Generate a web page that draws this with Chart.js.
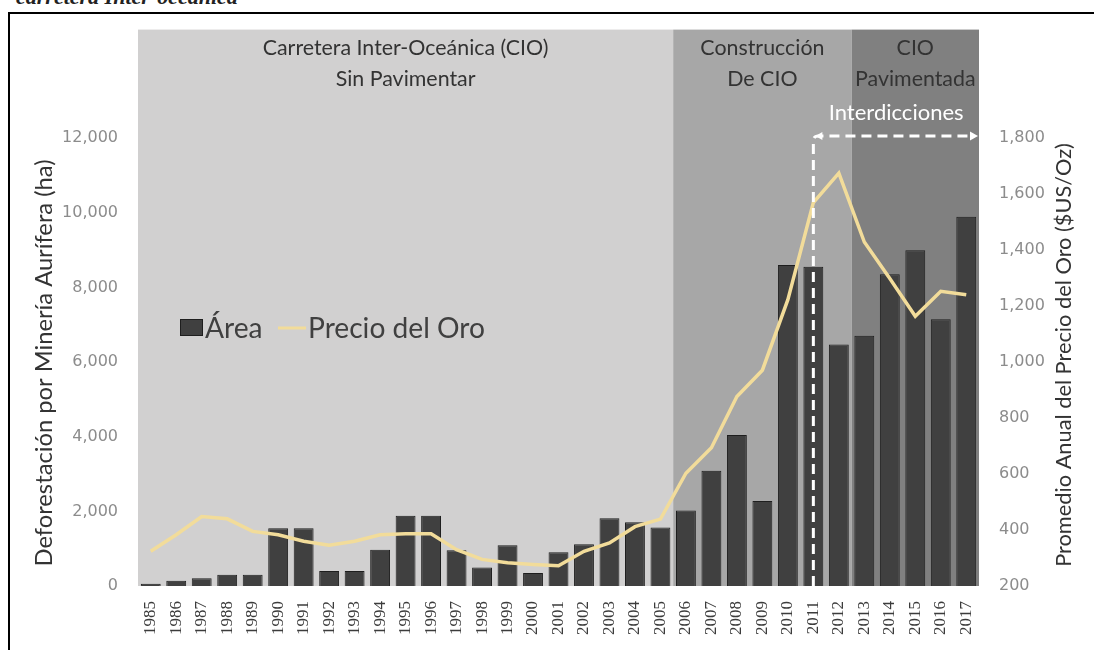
<!DOCTYPE html>
<html><head><meta charset="utf-8">
<script src="https://cdn.jsdelivr.net/npm/chart.js@4.4.0/dist/chart.umd.min.js"></script>
<style>
html,body{margin:0;padding:0;background:#fff;overflow:hidden}
#wrap{position:relative;width:1094px;height:650px;overflow:hidden}
#frame{position:absolute;left:8px;top:12px;width:1200px;height:800px;border-left:2.5px solid #000;border-top:2.5px solid #000}
#cap{position:absolute;left:16px;top:-15px;font:italic bold 22px/24px 'Liberation Serif';color:#222;white-space:nowrap}
canvas{position:absolute;left:0;top:0}
</style></head><body>
<div id="wrap"><div id="cap">carretera Inter-oceánica</div><div id="frame"></div><canvas id="c" width="1094" height="650"></canvas></div>
<script>
const years = ['1985','1986','1987','1988','1989','1990','1991','1992','1993','1994','1995','1996','1997','1998','1999','2000','2001','2002','2003','2004','2005','2006','2007','2008','2009','2010','2011','2012','2013','2014','2015','2016','2017'];
const area = [60,140,210,300,300,1550,1550,405,405,970,1885,1885,960,495,1090,345,905,1120,1815,1710,1570,2020,3090,4045,2280,8600,8555,6470,6705,8350,8995,7145,9890];
const gold = [324,383,448,440,395,383,360,346,360,383,387,387,330,295,283,277,272,324,354,412,439,603,694,877,971,1223,1570,1675,1429,1299,1164,1253,1241];
const leftTicks = [0,2000,4000,6000,8000,10000,12000];
const rightTicks = [200,400,600,800,1000,1200,1400,1600,1800];
const phaseLabels = [['Carretera Inter-Oceánica (CIO)','Sin Pavimentar'],['Construcción','De CIO'],['CIO','Pavimentada']];
const phaseStart = ['1985','2006','2013'];
const phaseEnd = ['2005','2012','2017'];
const phaseColors = ['#d1d0d0','#a7a7a7','#808080'];
const interdictionYear = '2011';
const interdictionLabel = 'Interdicciones';
const seriesNames = ['Área','Precio del Oro'];
const leftTitle = 'Deforestación por Minería Aurífera (ha)';
const rightTitle = 'Promedio Anual del Precio del Oro ($US/Oz)';

const BAR = '#404040', GOLD = '#f2dc9a';

function fitFont(ctx, text, family, target, weight) {
  ctx.font = (weight||'') + ' 100px ' + family;
  const w = ctx.measureText(text).width;
  return 100 * target / w;
}

const deco = {
  id: 'deco',
  beforeDatasetsDraw(chart) {
    const {ctx, chartArea: ca, scales: {x}} = chart;
    const half = (x.getPixelForValue(1) - x.getPixelForValue(0)) / 2;
    ctx.save();
    const fam = 'Lato';
    const fs = fitFont(ctx, phaseLabels[0][0], fam, 286);
    for (let i = 0; i < phaseStart.length; i++) {
      const l = i === 0 ? ca.left : x.getPixelForValue(years.indexOf(phaseStart[i])) - half;
      const r = i === phaseStart.length - 1 ? ca.right : x.getPixelForValue(years.indexOf(phaseEnd[i])) + half;
      ctx.fillStyle = phaseColors[i];
      ctx.fillRect(l, ca.top, r - l, ca.bottom - ca.top);
      ctx.fillStyle = '#333';
      ctx.font = fs + 'px ' + fam;
      ctx.textAlign = 'center';
      ctx.textBaseline = 'middle';
      ctx.fillText(phaseLabels[i][0], (l + r) / 2, 48);
      ctx.fillText(phaseLabels[i][1], (l + r) / 2, 79);
    }
    ctx.restore();
  },
  afterDatasetsDraw(chart) {
    const {ctx, chartArea: ca, scales: {x}} = chart;
    const xi = x.getPixelForValue(years.indexOf(interdictionYear));
    const yh = 136;
    ctx.save();
    ctx.strokeStyle = '#fff';
    ctx.fillStyle = '#fff';
    ctx.lineWidth = 3;
    ctx.setLineDash([10, 6]);
    ctx.beginPath();
    ctx.moveTo(xi, ca.bottom);
    ctx.lineTo(xi, yh + 5);
    ctx.quadraticCurveTo(xi, yh, xi + 5, yh);
    ctx.lineTo(ca.right - 8, yh);
    ctx.stroke();
    ctx.setLineDash([]);
    ctx.beginPath();
    ctx.moveTo(ca.right - 1, yh);
    ctx.lineTo(ca.right - 9, yh - 4.5);
    ctx.lineTo(ca.right - 9, yh + 4.5);
    ctx.closePath();
    ctx.fill();
    ctx.beginPath();
    ctx.moveTo(xi + 2, yh);
    ctx.lineTo(xi + 9, yh - 4);
    ctx.lineTo(xi + 9, yh + 4);
    ctx.closePath();
    ctx.fill();
    ctx.font = fitFont(ctx, interdictionLabel, 'Lato', 135) + 'px Lato';
    ctx.textAlign = 'center';
    ctx.textBaseline = 'middle';
    ctx.fillText(interdictionLabel, (xi + ca.right) / 2, 113);

    ctx.fillStyle = BAR;
    ctx.strokeStyle = '#1e1e1e';
    ctx.lineWidth = 1;
    ctx.fillRect(180, 319, 23, 17);
    ctx.strokeRect(180.5, 319.5, 22, 16);
    const lf = fitFont(ctx, seriesNames[1], 'Lato', 177);
    ctx.font = lf + 'px Lato';
    ctx.fillStyle = '#404040';
    ctx.textAlign = 'left';
    ctx.textBaseline = 'alphabetic';
    ctx.fillText(seriesNames[0], 205, 338);
    ctx.strokeStyle = GOLD;
    ctx.lineWidth = 3;
    ctx.beginPath();
    ctx.moveTo(278, 328); ctx.lineTo(306, 328);
    ctx.stroke();
    ctx.fillText(seriesNames[1], 308, 338);
    ctx.restore();
  },
  afterDraw(chart) {
    const {ctx} = chart;
    ctx.save();
    ctx.fillStyle = '#333';
    ctx.textAlign = 'center';
    ctx.textBaseline = 'middle';
    ctx.font = fitFont(ctx, leftTitle, 'Lato', 407) + 'px Lato';
    ctx.translate(44, 363);
    ctx.rotate(-Math.PI / 2);
    ctx.fillText(leftTitle, 0, 0);
    ctx.restore();
    ctx.save();
    ctx.fillStyle = '#333';
    ctx.textAlign = 'center';
    ctx.textBaseline = 'middle';
    ctx.font = fitFont(ctx, rightTitle, 'Lato', 424) + 'px Lato';
    ctx.translate(1064, 355);
    ctx.rotate(-Math.PI / 2);
    ctx.fillText(rightTitle, 0, 0);
    ctx.restore();
  }
};

new Chart(document.getElementById('c'), {
  type: 'bar',
  data: {
    labels: years,
    datasets: [
      {type: 'line', label: seriesNames[1], data: gold, yAxisID: 'y1', borderColor: GOLD, borderWidth: 3.5, pointRadius: 0, tension: 0, fill: false, order: 0},
      {type: 'bar', label: seriesNames[0], data: area, yAxisID: 'y', backgroundColor: BAR, borderColor: '#1e1e1e', borderWidth: 1, barPercentage: 0.78, categoryPercentage: 1, order: 1}
    ]
  },
  options: {
    responsive: false,
    animation: false,
    devicePixelRatio: 1,
    layout: {padding: {top: 22, left: 0, right: 0, bottom: 0}},
    plugins: {legend: {display: false}, tooltip: {enabled: false}, title: {display: false}},
    scales: {
      x: {
        offset: true,
        grid: {display: false, drawTicks: false},
        border: {display: false},
        ticks: {autoSkip: false, minRotation: 90, maxRotation: 90, padding: 15, color: '#3c3c3c', font: {family: 'Liberation Serif', size: 17}},
        afterFit(s) { s.height = 64; }
      },
      y: {
        position: 'left', min: 0, max: 14907,
        grid: {display: false, drawTicks: false},
        border: {display: false},
        afterBuildTicks(s) { s.ticks = leftTicks.map(v => ({value: v})); },
        ticks: {padding: 20, color: '#8c8c8c', font: {family: 'DejaVu Sans', size: 16}, callback: v => v.toLocaleString('en-US')},
        afterFit(s) { s.width = 138; }
      },
      y1: {
        position: 'right', min: 200, max: 2188,
        grid: {display: false, drawTicks: false},
        border: {display: false},
        afterBuildTicks(s) { s.ticks = rightTicks.map(v => ({value: v})); },
        ticks: {padding: 20, color: '#8c8c8c', font: {family: 'DejaVu Sans', size: 16}, callback: v => v.toLocaleString('en-US')},
        afterFit(s) { s.width = 115; }
      }
    }
  },
  plugins: [deco]
});
</script>
</body></html>
